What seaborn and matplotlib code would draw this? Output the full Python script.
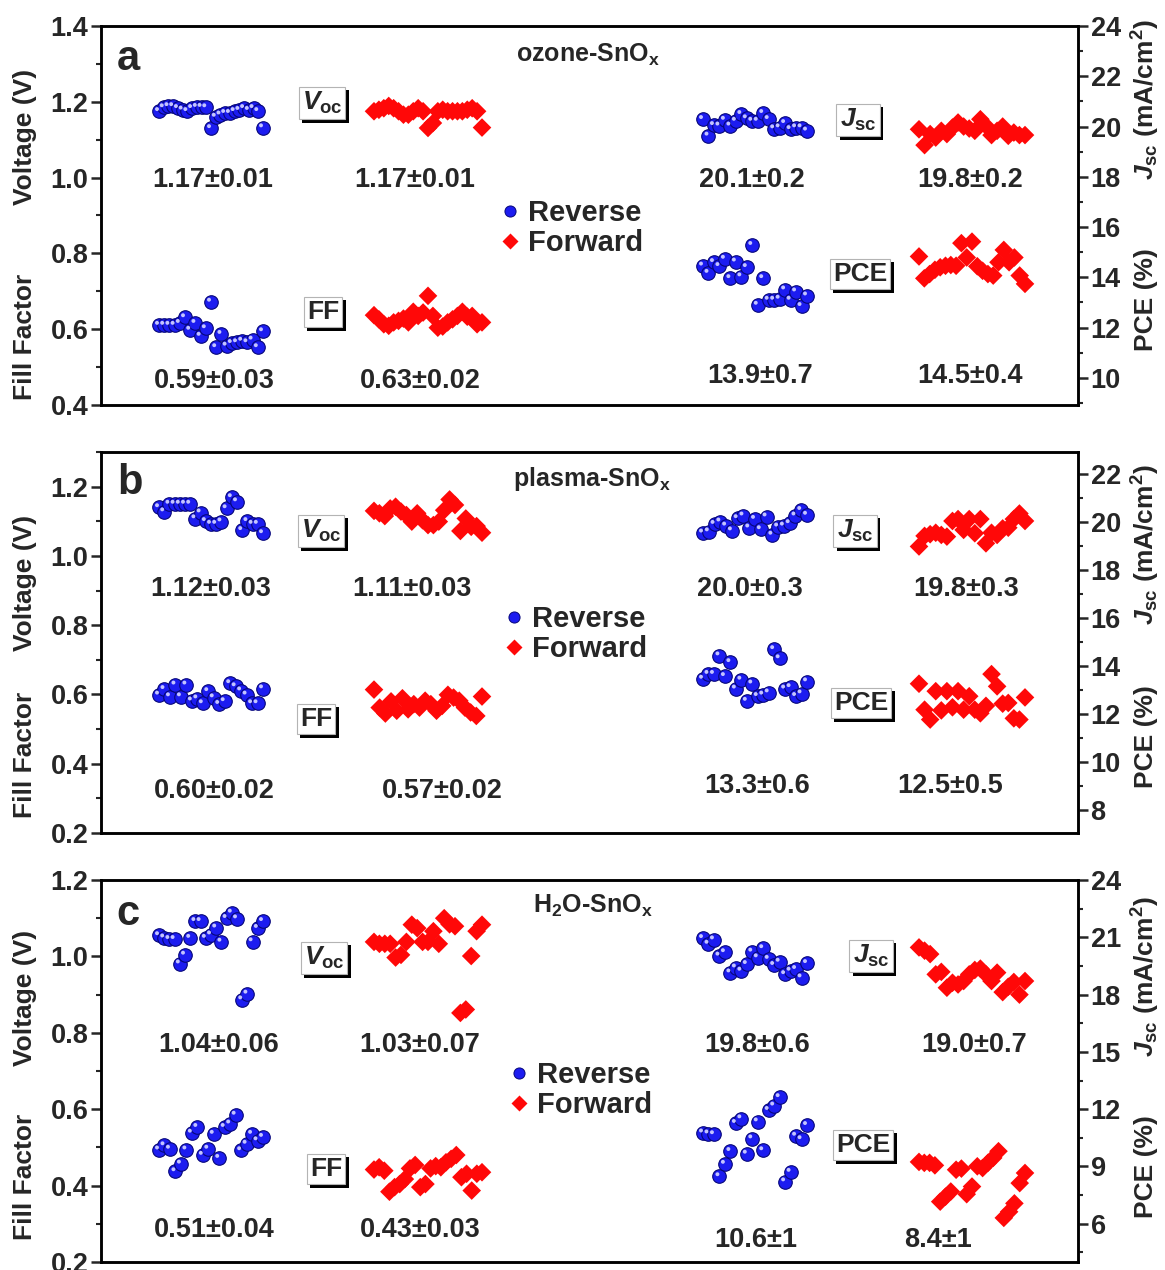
import numpy as np
import pandas as pd
import matplotlib
matplotlib.use("Agg")
import matplotlib.pyplot as plt
import seaborn as sns
from matplotlib.lines import Line2D
from matplotlib.patches import Rectangle
from matplotlib.ticker import MultipleLocator, FormatStrFormatter
from matplotlib.transforms import offset_copy

# --- values (one point per device) ---
# a: ozone-SnOx
A_VOC_REV = [1.175, 1.185, 1.188, 1.188, 1.183, 1.179, 1.175, 1.183, 1.186, 1.186, 1.185, 1.130,
             1.160, 1.166, 1.170, 1.170, 1.175, 1.178, 1.183, 1.178, 1.183, 1.175, 1.132]
A_VOC_FWD = [1.175, 1.179, 1.183, 1.189, 1.183, 1.175, 1.166, 1.166, 1.175, 1.183, 1.175, 1.131,
             1.144, 1.175, 1.179, 1.175, 1.175, 1.175, 1.175, 1.179, 1.183, 1.175, 1.132]
A_FF_REV = [0.611, 0.611, 0.611, 0.611, 0.616, 0.631, 0.598, 0.616, 0.582, 0.602, 0.672, 0.552,
            0.587, 0.556, 0.563, 0.565, 0.569, 0.565, 0.572, 0.552, 0.594]
A_FF_FWD = [0.637, 0.626, 0.613, 0.609, 0.618, 0.622, 0.628, 0.618, 0.646, 0.635, 0.644, 0.688,
            0.635, 0.604, 0.607, 0.618, 0.626, 0.635, 0.646, 0.633, 0.635, 0.613, 0.618]
A_JSC_REV = [20.29, 19.63, 20.05, 20.03, 20.26, 20.03, 20.22, 20.49, 20.32, 20.22, 20.22, 20.53,
             20.29, 19.92, 19.96, 20.13, 19.89, 19.96, 19.96, 19.83]
A_JSC_FWD = [19.89, 19.26, 19.70, 19.56, 19.83, 19.70, 19.96, 20.16, 20.00, 19.92, 19.83, 20.29,
             20.03, 19.66, 19.83, 20.00, 19.63, 19.76, 19.66, 19.66]
A_PCE_REV = [14.46, 14.17, 14.60, 14.44, 14.73, 13.96, 14.62, 14.03, 14.40, 15.28, 12.90, 13.96,
             13.10, 13.10, 13.14, 13.51, 13.10, 13.43, 12.85, 13.27]
A_PCE_FWD = [14.83, 13.96, 14.13, 14.30, 14.40, 14.46, 14.49, 14.46, 15.36, 14.79, 15.42, 14.44,
             14.26, 14.13, 14.07, 14.60, 15.09, 14.60, 14.79, 14.07, 13.74]
A_STATS = ["1.17±0.01", "1.17±0.01", "20.1±0.2", "19.8±0.2",
           "0.59±0.03", "0.63±0.02", "13.9±0.7", "14.5±0.4"]

# b: plasma-SnOx
B_VOC_REV = [1.140, 1.128, 1.150, 1.150, 1.150, 1.150, 1.150, 1.108, 1.125, 1.100, 1.092, 1.092,
             1.099, 1.137, 1.169, 1.157, 1.074, 1.100, 1.092, 1.092, 1.065]
B_VOC_FWD = [1.130, 1.123, 1.115, 1.137, 1.142, 1.128, 1.118, 1.099, 1.123, 1.103, 1.089, 1.089,
             1.099, 1.132, 1.163, 1.147, 1.072, 1.108, 1.084, 1.086, 1.067]
B_FF_REV = [0.599, 0.615, 0.594, 0.628, 0.594, 0.628, 0.582, 0.588, 0.574, 0.609, 0.591, 0.572,
            0.580, 0.632, 0.623, 0.611, 0.599, 0.574, 0.574, 0.617]
B_FF_FWD = [0.614, 0.562, 0.545, 0.580, 0.553, 0.589, 0.557, 0.572, 0.562, 0.582, 0.572, 0.553,
            0.567, 0.599, 0.591, 0.582, 0.562, 0.548, 0.538, 0.594]
B_JSC_REV = [19.54, 19.59, 19.90, 20.00, 19.83, 19.63, 20.14, 20.25, 19.75, 20.11, 19.68, 20.21,
             19.45, 19.79, 19.83, 19.93, 20.25, 20.48, 20.28]
B_JSC_FWD = [18.97, 19.41, 19.48, 19.54, 19.45, 19.38, 20.03, 20.11, 19.66, 20.11, 19.52, 20.11,
             19.10, 19.54, 19.45, 19.72, 19.75, 20.11, 20.34, 20.03]
B_PCE_REV = [13.46, 13.66, 13.66, 14.43, 13.57, 14.15, 13.05, 13.42, 12.54, 13.26, 12.74, 12.80,
             12.89, 14.69, 14.31, 13.05, 13.11, 12.74, 12.85, 13.35]
B_PCE_FWD = [13.26, 12.18, 11.77, 12.95, 12.15, 12.95, 12.28, 12.95, 12.18, 12.74, 12.18, 12.03,
             12.34, 13.66, 13.15, 12.43, 12.46, 11.82, 11.77, 12.69]
B_STATS = ["1.12±0.03", "1.11±0.03", "20.0±0.3", "19.8±0.3",
           "0.60±0.02", "0.57±0.02", "13.3±0.6", "12.5±0.5"]

# c: H2O-SnOx
C_VOC_REV = [1.055, 1.049, 1.045, 1.045, 0.981, 1.004, 1.048, 1.092, 1.092, 1.048, 1.057, 1.075,
             1.038, 1.100, 1.114, 1.099, 0.887, 0.902, 1.039, 1.074, 1.092]
C_VOC_FWD = [1.038, 1.033, 1.033, 1.033, 0.997, 1.004, 1.038, 1.083, 1.074, 1.038, 1.038, 1.066,
             1.033, 1.100, 1.084, 1.079, 0.852, 0.861, 1.001, 1.066, 1.083]
C_FF_REV = [0.494, 0.505, 0.496, 0.437, 0.457, 0.494, 0.538, 0.553, 0.480, 0.496, 0.535, 0.472,
            0.553, 0.562, 0.585, 0.492, 0.509, 0.535, 0.518, 0.527]
C_FF_FWD = [0.442, 0.448, 0.439, 0.384, 0.396, 0.404, 0.417, 0.445, 0.454, 0.396, 0.404, 0.445,
            0.451, 0.448, 0.461, 0.470, 0.480, 0.422, 0.431, 0.387, 0.431, 0.435]
C_JSC_REV = [20.95, 20.65, 20.88, 20.03, 20.21, 19.15, 19.41, 19.24, 19.59, 20.24, 19.94, 20.42,
             19.86, 19.54, 19.71, 19.06, 19.24, 19.33, 18.89, 19.64]
C_JSC_FWD = [20.47, 20.30, 20.12, 19.06, 19.19, 18.36, 18.62, 18.53, 18.71, 19.06, 19.29, 19.36,
             19.06, 18.71, 19.15, 18.13, 18.41, 18.66, 18.00, 18.71]
C_PCE_REV = [10.77, 10.72, 10.68, 8.48, 9.13, 9.80, 11.27, 11.51, 9.66, 10.46, 11.35, 9.84,
             11.95, 12.18, 12.62, 8.21, 8.71, 10.60, 10.42, 11.16]
C_PCE_FWD = [9.24, 9.19, 9.19, 9.06, 7.16, 7.42, 7.69, 8.83, 8.89, 7.55, 7.95, 9.01, 8.92, 9.19,
             9.45, 9.80, 6.31, 6.63, 7.07, 8.13, 8.66]
C_STATS = ["1.04±0.06", "1.03±0.07", "19.8±0.6", "19.0±0.7",
           "0.51±0.04", "0.43±0.03", "10.6±1", "8.4±1"]

LEG_LABELS = ["Reverse", "Forward"]
BOX_LABELS = [r"$V_{\mathrm{oc}}$", "FF", r"$J_{\mathrm{sc}}$", "PCE"]
LEFT_LABELS = ["Voltage (V)", "Fill Factor"]
RIGHT_LABELS = [r"$J_{\mathrm{sc}}$ (mA/cm$^{2}$)", "PCE (%)"]

# --- layout (pixels of the 1165x1270 canvas) ---
W, H = 1165, 1270
AX_L, AX_R = 101, 1078
# x span of each group of devices: left-rev, left-fwd, right-rev, right-fwd
SPANS = [(159, 263), (374, 482), (703, 807), (919, 1025)]
BLUE, BLUE_EDGE, RED = "#1c1cf0", "#06067a", "#ff0808"

PANELS = [
    dict(letter="a", letter_xy=(128, 70), title="ozone-SnO$_{\\mathrm{x}}$", title_xy=(588, 55),
         box=(26, 405), llim=(0.4, 1.4), rlim=(8.92, 24), rmaj=2, rmin=1,
         series=[A_VOC_REV, A_VOC_FWD, A_JSC_REV, A_JSC_FWD, A_FF_REV, A_FF_FWD, A_PCE_REV, A_PCE_FWD],
         stats=A_STATS,
         stat_xy=[(213, 180), (415, 180), (752, 180), (970, 180),
                  (214, 381), (420, 381), (760, 376), (970, 376)],
         box_xy=[(322, 103), (323, 312), (858, 120), (860, 274)],
         leg_xy=(503, 228), left_y=(137, 337), right_y=(100, 300)),
    dict(letter="b", letter_xy=(130, 494), title="plasma-SnO$_{\\mathrm{x}}$", title_xy=(592, 479),
         box=(452, 833), llim=(0.2, 1.3), rlim=(7.05, 22.9), rmaj=2, rmin=1,
         series=[B_VOC_REV, B_VOC_FWD, B_JSC_REV, B_JSC_FWD, B_FF_REV, B_FF_FWD, B_PCE_REV, B_PCE_FWD],
         stats=B_STATS,
         stat_xy=[(211, 589), (412, 589), (750, 589), (966, 589),
                  (214, 791), (442, 791), (757, 786), (950, 786)],
         box_xy=[(321, 531), (316, 719), (855, 531), (861, 703)],
         leg_xy=(507, 634), left_y=(583, 755), right_y=(545, 737)),
    dict(letter="c", letter_xy=(128, 925), title="H$_{2}$O-SnO$_{\\mathrm{x}}$", title_xy=(593, 906),
         box=(880, 1262), llim=(0.2, 1.2), rlim=(4, 24), rmaj=3, rmin=1.5,
         series=[C_VOC_REV, C_VOC_FWD, C_JSC_REV, C_JSC_FWD, C_FF_REV, C_FF_FWD, C_PCE_REV, C_PCE_FWD],
         stats=C_STATS,
         stat_xy=[(219, 1045), (420, 1045), (757, 1045), (974, 1045),
                  (214, 1230), (420, 1230), (756, 1240), (938, 1240)],
         box_xy=[(324, 958), (326, 1169), (871, 956), (863, 1145)],
         leg_xy=(512, 1090), left_y=(998, 1177), right_y=(977, 1167)),
]


def fx(px):
    return px / W


def fy(py):
    return 1 - py / H


def draw_series(fig, ax, vals, span, scan):
    df = pd.DataFrame({"x": np.linspace(span[0], span[1], len(vals)), "y": vals})
    if scan == "rev":
        sns.scatterplot(data=df, x="x", y="y", ax=ax, marker="o", s=95, color=BLUE,
                        edgecolor=BLUE_EDGE, linewidth=0.8, zorder=3, legend=False)
        glint = offset_copy(ax.transData, fig=fig, x=-2.0, y=2.2, units="dots")
        sns.scatterplot(data=df, x="x", y="y", ax=ax, marker="o", s=8, color="#c4c4ff",
                        edgecolor="none", linewidth=0, transform=glint, zorder=4, legend=False)
    else:
        sns.scatterplot(data=df, x="x", y="y", ax=ax, marker="D", s=90, color=RED,
                        edgecolor="none", linewidth=0, zorder=3, legend=False)


sns.set_style("ticks")
plt.rcParams["font.family"] = ["Liberation Sans", "DejaVu Sans"]
plt.rcParams["font.weight"] = "bold"
plt.rcParams["mathtext.fontset"] = "custom"
plt.rcParams["mathtext.rm"] = "Liberation Sans:bold"
plt.rcParams["mathtext.bf"] = "Liberation Sans:bold"
plt.rcParams["mathtext.it"] = "Liberation Sans:bold:italic"

fig = plt.figure(figsize=(W / 100, H / 100), dpi=100)
fig.patch.set_facecolor("white")
boxed = []

for p in PANELS:
    top, bot = p["box"]
    ax = fig.add_axes([fx(AX_L), fy(bot), (AX_R - AX_L) / W, (bot - top) / H])
    ax2 = ax.twinx()

    for i, vals in enumerate(p["series"]):
        target = ax if (i % 4) < 2 else ax2
        draw_series(fig, target, vals, SPANS[i % 4], "rev" if i % 2 == 0 else "fwd")

    ax.set_xlim(AX_L, AX_R)
    ax.set_ylim(*p["llim"])
    ax2.set_ylim(*p["rlim"])
    ax.set_xticks([])
    for a in (ax, ax2):
        a.set_xlabel("")
        a.set_ylabel("")
        for sp in a.spines.values():
            sp.set_linewidth(1.8)
            sp.set_color("black")
    ax.yaxis.set_major_locator(MultipleLocator(0.2))
    ax.yaxis.set_minor_locator(MultipleLocator(0.1))
    ax.yaxis.set_major_formatter(FormatStrFormatter("%.1f"))
    ax2.yaxis.set_major_locator(MultipleLocator(p["rmaj"]))
    ax2.yaxis.set_minor_locator(MultipleLocator(p["rmin"]))
    ax2.yaxis.set_major_formatter(FormatStrFormatter("%d"))
    for a in (ax, ax2):
        a.tick_params(axis="y", which="major", direction="out", length=7, width=1.8,
                      labelsize=19.5, pad=2)
        a.tick_params(axis="y", which="minor", direction="out", length=3.5, width=1.5)

    handles = [Line2D([], [], ls="none", marker="o", ms=8, mfc=BLUE, mec=BLUE_EDGE, mew=0.7),
               Line2D([], [], ls="none", marker="D", ms=8, mfc=RED, mec="none")]
    ax2.legend(handles, LEG_LABELS, loc="center left",
               bbox_to_anchor=(fx(p["leg_xy"][0]), fy(p["leg_xy"][1])),
               bbox_transform=fig.transFigure, frameon=False, fontsize=21, handlelength=0.45,
               handletextpad=0.4, labelspacing=0.05, borderpad=0, borderaxespad=0)

    for s, (x, y) in zip(p["stats"], p["stat_xy"]):
        fig.text(fx(x), fy(y), s, ha="center", va="center", fontsize=19.5)
    for s, (x, y) in zip(BOX_LABELS, p["box_xy"]):
        t = fig.text(fx(x), fy(y), s, ha="center", va="center", fontsize=19, zorder=4,
                     bbox=dict(boxstyle="square,pad=0.12", fc="white", ec="#b4b4b4", lw=0.8))
        boxed.append(t)

    fig.text(fx(p["letter_xy"][0]), fy(p["letter_xy"][1]), p["letter"], ha="center",
             va="baseline", fontsize=30)
    fig.text(fx(p["title_xy"][0]), fy(p["title_xy"][1]), p["title"], ha="center",
             va="center", fontsize=18)
    for s, y in zip(LEFT_LABELS, p["left_y"]):
        fig.text(fx(25), fy(y), s, rotation=90, ha="center", va="center", fontsize=19)
    for s, y in zip(RIGHT_LABELS, p["right_y"]):
        fig.text(fx(1146), fy(y), s, rotation=90, ha="center", va="center", fontsize=19)

# drop shadow (offset black box) behind each boxed label
fig.canvas.draw()
to_fig = fig.transFigure.inverted()
for t in boxed:
    bb = t.get_bbox_patch().get_window_extent()
    (x0, y0), (x1, y1) = to_fig.transform([(bb.x0 + 3.5, bb.y0 - 3.5), (bb.x1 + 3.5, bb.y1 - 3.5)])
    fig.add_artist(Rectangle((x0, y0), x1 - x0, y1 - y0, transform=fig.transFigure,
                             fc="black", ec="none", zorder=3.5))

fig.savefig("out.png", dpi=100)
